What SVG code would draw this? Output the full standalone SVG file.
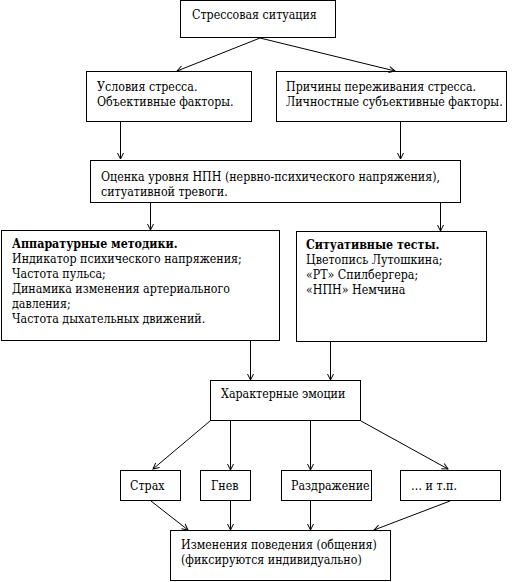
<svg xmlns="http://www.w3.org/2000/svg" width="518" height="582" viewBox="0 0 518 582" font-family="DejaVu Serif Condensed, DejaVu Serif, serif">
<style>
rect{fill:#fff;stroke:#000;stroke-width:1}
text{font-size:12.3px;font-stretch:condensed;fill:#000}
.b{font-weight:bold}
#connectors line{stroke:#000;stroke-width:1;marker-end:url(#a)}
</style>
<defs>
<marker id="a" markerWidth="8" markerHeight="8" refX="7" refY="4" orient="auto" markerUnits="userSpaceOnUse">
<path d="M1,1 L7,4 L1,7" fill="none" stroke="#000" stroke-width="1"/>
</marker>
</defs>
<rect x="0" y="0" width="518" height="582" style="stroke:none"/>
<g id="n1"><rect x="180.5" y="0.5" width="155" height="37"/><text x="192" y="19">Стрессовая ситуация</text></g>
<g id="n2"><rect x="86.5" y="71.5" width="165" height="50"/><text x="97" y="91">Условия стресса.</text><text x="97" y="106">Объективные факторы.</text></g>
<g id="n3"><rect x="276.5" y="71.5" width="230" height="50"/><text x="286" y="91">Причины переживания стресса.</text><text x="286" y="106">Личностные субъективные факторы.</text></g>
<g id="n4"><rect x="90.5" y="160.5" width="370" height="42"/><text x="101" y="181">Оценка уровня НПН (нервно-психического напряжения),</text><text x="101" y="196">ситуативной тревоги.</text></g>
<g id="n5"><rect x="1.5" y="230.5" width="278" height="110"/><text class="b" x="12" y="248">Аппаратурные методики.</text><text x="12" y="263">Индикатор психического напряжения;</text><text x="12" y="278">Частота пульса;</text><text x="12" y="293">Динамика изменения артериального</text><text x="12" y="308">давления;</text><text x="12" y="323">Частота дыхательных движений.</text></g>
<g id="n6"><rect x="296.5" y="231.5" width="190" height="110"/><text class="b" x="306" y="249">Ситуативные тесты.</text><text x="306" y="264">Цветопись Лутошкина;</text><text x="306" y="279">«РТ» Спилбергера;</text><text x="306" y="294">«НПН» Немчина</text></g>
<g id="n7"><rect x="210.5" y="380.5" width="150" height="40"/><text x="221" y="398">Характерные эмоции</text></g>
<g id="n8"><rect x="120.5" y="470.5" width="60" height="30"/><text x="130" y="490">Страх</text></g>
<g id="n9"><rect x="200.5" y="470.5" width="50" height="30"/><text x="211" y="490">Гнев</text></g>
<g id="n10"><rect x="281.5" y="470.5" width="90" height="30"/><text x="291" y="490">Раздражение</text></g>
<g id="n11"><rect x="400.5" y="470.5" width="100" height="30"/><text x="411" y="490">… и т.п.</text></g>
<g id="n12"><rect x="170.5" y="530.5" width="220" height="50"/><text x="181" y="549">Изменения поведения (общения)</text><text x="181" y="564">(фиксируются индивидуально)</text></g>
<g id="connectors">
<line x1="260" y1="38" x2="177" y2="71"/>
<line x1="260" y1="38" x2="395" y2="71"/>
<line x1="120.5" y1="122" x2="120.5" y2="159"/>
<line x1="400.5" y1="122" x2="400.5" y2="159"/>
<line x1="150.5" y1="203" x2="150.5" y2="230"/>
<line x1="440.5" y1="203" x2="440.5" y2="231"/>
<line x1="250.5" y1="341" x2="250.5" y2="380"/>
<line x1="330.5" y1="342" x2="330.5" y2="380"/>
<line x1="210" y1="421" x2="153" y2="469"/>
<line x1="230.5" y1="421" x2="230.5" y2="470"/>
<line x1="310.5" y1="421" x2="310.5" y2="470"/>
<line x1="361" y1="421" x2="448" y2="469"/>
<line x1="151" y1="501" x2="188" y2="530"/>
<line x1="230.5" y1="501" x2="230.5" y2="530"/>
<line x1="310.5" y1="501" x2="310.5" y2="530"/>
<line x1="450" y1="501" x2="374" y2="530"/>
</g>
</svg>
